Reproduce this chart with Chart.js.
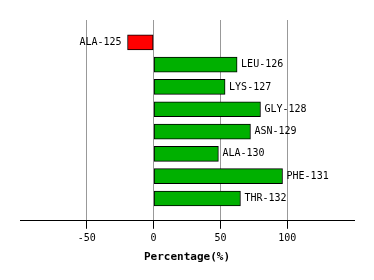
<!DOCTYPE html>
<html>
<head>
<meta charset="utf-8">
<script src="https://cdn.jsdelivr.net/npm/chart.js@4/dist/chart.umd.min.js"></script>
<style>
    html, body { margin: 0; padding: 0; background: #fff; }
    #wrap { width: 374px; height: 280px; }
</style>
</head>
<body>
<div id="wrap"><canvas id="residueChart"></canvas></div>
<script>
const residues = ['ALA-125', 'LEU-126', 'LYS-127', 'GLY-128', 'ASN-129', 'ALA-130', 'PHE-131', 'THR-132'];
const percentages = [-19.5, 62.5, 53.5, 80, 72.5, 48.5, 96.5, 65];
const xTicks = [-50, 0, 50, 100];

const monoFont = "'DejaVu Sans Mono', monospace";

// puts the residue name beside each bar, left of negatives and right of positives
const barLabels = {
    id: 'barLabels',
    afterDatasetsDraw(chart) {
        const ctx = chart.ctx;
        const meta = chart.getDatasetMeta(0);
        ctx.save();
        ctx.font = '10px ' + monoFont;
        ctx.fillStyle = '#000';
        ctx.textBaseline = 'middle';
        meta.data.forEach((bar, i) => {
            if (percentages[i] < 0) {
                ctx.textAlign = 'right';
                ctx.fillText(residues[i], bar.x - 6, bar.y);
            } else {
                ctx.textAlign = 'left';
                ctx.fillText(residues[i], bar.x + 4, bar.y);
            }
        });
        ctx.restore();
    }
};

const edgeTick = v => v === -100 || v === 150;

new Chart('residueChart', {
    type: 'bar',
    data: {
        datasets: [{
            data: percentages.map((v, i) => ({ x: v, y: i })),
            backgroundColor: percentages.map(v => v < 0 ? '#ff0000' : '#00b000'),
            borderColor: '#000',
            borderWidth: 1,
            borderSkipped: false,
            barThickness: 15
        }]
    },
    options: {
        indexAxis: 'y',
        responsive: true,
        maintainAspectRatio: false,
        animation: false,
        layout: { padding: { left: 20, right: 20, top: 20, bottom: 16 } },
        plugins: { legend: { display: false }, tooltip: { enabled: false } },
        scales: {
            x: {
                type: 'linear',
                min: -100,
                max: 150,
                afterBuildTicks: scale => {
                    scale.ticks = [-100, ...xTicks, 150].map(v => ({ value: v }));
                },
                ticks: {
                    font: { family: monoFont, size: 10 },
                    color: '#000',
                    padding: 4,
                    callback: v => edgeTick(v) ? '' : v
                },
                grid: {
                    color: c => edgeTick(c.tick.value) ? 'rgba(0,0,0,0)' : '#999',
                    tickColor: c => edgeTick(c.tick.value) ? 'rgba(0,0,0,0)' : '#000',
                    tickLength: 8
                },
                border: { color: '#000', width: 1 },
                title: {
                    display: true,
                    text: 'Percentage(%)',
                    font: { family: monoFont, size: 11, weight: 'bold' },
                    color: '#000',
                    padding: { top: 2, bottom: 0 }
                }
            },
            y: {
                type: 'linear',
                reverse: true,
                offset: false,
                min: -1,
                max: 8,
                display: false
            }
        }
    },
    plugins: [barLabels]
});
</script>
</body>
</html>
